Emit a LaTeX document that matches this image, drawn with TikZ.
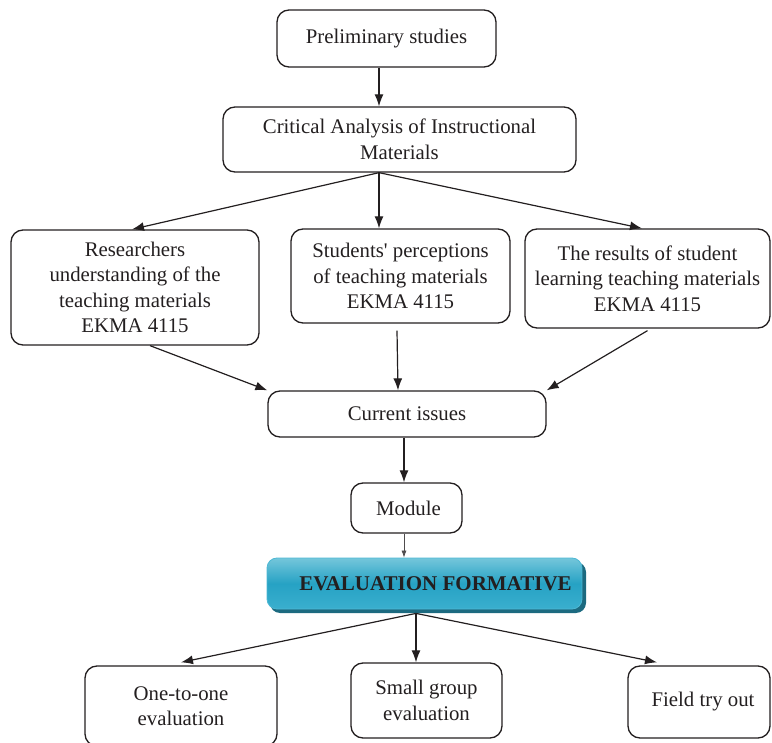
\documentclass[tikz,border=0pt]{standalone}
\usepackage{fontspec}
\setmainfont{Liberation Serif}
% same face without the TeX input mapping, for a straight apostrophe
\newfontfamily\straightquote{Liberation Serif}
\usetikzlibrary{arrows.meta,calc}
\definecolor{ink}{HTML}{231F20}
\definecolor{tealtop}{HTML}{74C6DB}
\definecolor{tealmid}{HTML}{26A2C4}
\definecolor{tealbot}{HTML}{3AAFCE}
\definecolor{tealdark}{HTML}{1C6A80}
\definecolor{tealedge}{HTML}{4DB8D4}
\begin{document}
\begin{tikzpicture}[x=1pt,y=-1pt,
  box/.style={draw=ink, line width=1.3pt, rounded corners=12pt, align=center,
    inner sep=0pt, text=ink, font=\fontsize{20.8}{25.5}\selectfont},
  arr/.style={draw=ink, line width=1.2pt, -{Latex[length=12pt,width=9pt]}},
  thinarr/.style={draw=ink!80, line width=0.7pt, -{Latex[length=7pt,width=5pt]}}]
\useasboundingbox (0,0) rectangle (772,743);

% top of the flow
\node[box, minimum width=219pt, minimum height=57pt] (pre) at (386.5,38.5) {Preliminary studies};
\node[box, minimum width=353pt, minimum height=65pt] (crit) at (399.5,139.5)
  {Critical Analysis of Instructional\\Materials};

% three sources
\node[box, minimum width=248pt, minimum height=115pt] (res) at (135,287.5)
  {Researchers\\understanding of the\\teaching materials\\EKMA 4115};
\node[box, minimum width=219pt, minimum height=94pt] (stu) at (400.5,276)
  {Students{\straightquote'} perceptions\\of teaching materials\\EKMA 4115};
\node[box, minimum width=245pt, minimum height=99pt] (lrn) at (647.5,278.5)
  {The results of student\\learning teaching materials\\EKMA 4115};

% issues and module
\node[box, minimum width=278pt, minimum height=46pt] (cur) at (407,414) {Current issues};
\node[box, minimum width=111pt, minimum height=50pt] (mod) at (406.5,508) {\hspace*{4pt}Module};

% formative evaluation banner
\fill[tealdark, rounded corners=10pt] (270,562) rectangle (586,613);
\node[draw=tealedge, line width=0.8pt, rounded corners=10pt, minimum width=315pt,
  minimum height=51pt, inner sep=0pt, top color=tealtop, bottom color=tealbot,
  middle color=tealmid, text=ink,
  font=\fontsize{21}{25}\selectfont\bfseries] (eval) at (424.5,583.5)
  {\hspace*{22pt}EVALUATION FORMATIVE};

% evaluation stages
\node[box, minimum width=192pt, minimum height=80pt] (one) at (181,706)
  {One-to-one\\evaluation};
\node[box, minimum width=151pt, minimum height=75pt] (sg) at (426.5,700.5)
  {Small group\\evaluation};
\node[box, minimum width=142pt, minimum height=72pt] (fld) at (699,702)
  {\hspace*{8pt}Field try out};

% connectors
\draw[arr] ([xshift=-7.5pt]pre.south) -- ([xshift=-7.5pt]pre.south |- crit.north);
\draw[arr] ([xshift=-20.5pt]crit.south) -- ([xshift=-3pt]res.north);
\draw[arr] ([xshift=-20.5pt]crit.south) -- ([xshift=-21.5pt]stu.north);
\draw[arr] ([xshift=-20.5pt]crit.south) -- ([xshift=-5.5pt]lrn.north);
\draw[arr] ([xshift=15pt]res.south) -- (cur.north west);
\draw[arr] ([xshift=-3.5pt,yshift=-7pt]stu.south) -- ([xshift=-9pt]cur.north);
\draw[arr] ([yshift=-2pt]lrn.south) -- (cur.north east);
\draw[arr] ([xshift=-3pt]cur.south) -- ([xshift=-2.5pt]mod.north);
\draw[thinarr] ([xshift=-2.5pt]mod.south) -- ([xshift=-20.5pt]eval.north);
\draw[arr] ([xshift=-8.5pt,yshift=-4pt]eval.south) -- ([yshift=3pt]one.north);
\draw[arr] ([xshift=-8.5pt,yshift=-4pt]eval.south) -- ([xshift=-10.5pt]sg.north);
\draw[arr] ([xshift=-8.5pt,yshift=-4pt]eval.south) -- ([xshift=-42pt,yshift=3pt]fld.north);
\end{tikzpicture}
\end{document}
